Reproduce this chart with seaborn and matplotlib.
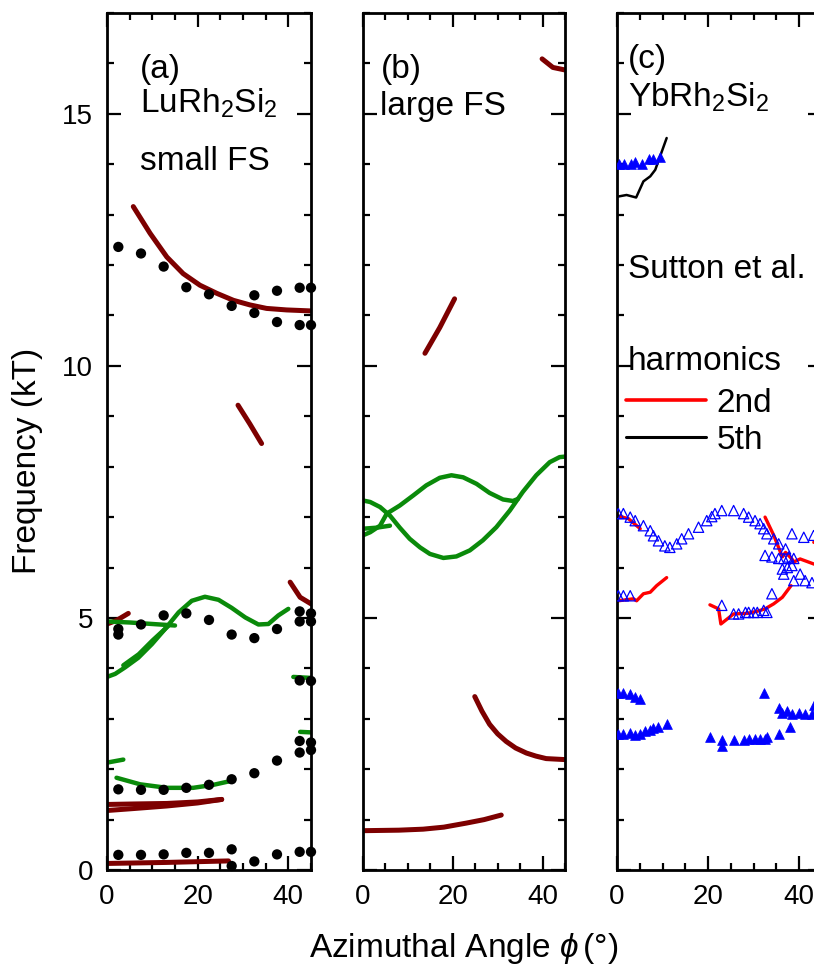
import numpy as np
import pandas as pd
import matplotlib
matplotlib.use("Agg")
import matplotlib.pyplot as plt
from matplotlib.lines import Line2D
from matplotlib.ticker import MultipleLocator
import seaborn as sns

# ---- panel (a) LuRh2Si2 small FS : calculated branches ----
a_red = [
    ([5.8, 9.5, 13.2, 16.8, 20.5, 24.2, 27.9, 31.5, 35.2, 39.6, 45.0],
     [13.16, 12.63, 12.16, 11.83, 11.60, 11.44, 11.30, 11.21, 11.14, 11.11, 11.09]),
    ([28.9, 31.5, 34.1], [9.22, 8.85, 8.46]),
    ([40.4, 42.6, 45.0], [5.71, 5.41, 5.28]),
    ([0.0, 2.1, 4.7], [4.88, 4.95, 5.09]),
    ([0.0, 6.0, 13.2, 20.0, 25.3], [1.18, 1.22, 1.27, 1.33, 1.40]),
    ([0.0, 6.0, 13.2, 20.0, 25.3], [1.30, 1.31, 1.32, 1.35, 1.40]),
    ([0.0, 13.0, 26.8], [0.13, 0.15, 0.18]),
]
a_green = [
    ([0.0, 5.0, 10.0, 15.0], [4.93, 4.91, 4.88, 4.85]),
    ([0.0, 1.8, 4.0, 6.9, 9.9, 12.8, 15.8, 18.7, 21.6, 24.6, 27.5, 30.5, 33.4, 35.6, 37.8, 40.0],
     [3.83, 3.89, 4.02, 4.21, 4.48, 4.78, 5.11, 5.34, 5.42, 5.36, 5.20, 5.01, 4.87, 4.88, 5.05, 5.18]),
    ([3.6, 7.0, 10.0, 13.5], [4.06, 4.28, 4.55, 4.84]),
    ([41.1, 45.0], [3.83, 3.81]),
    ([42.6, 45.0], [2.74, 2.73]),
    ([0.0, 3.6], [2.13, 2.19]),
    ([2.1, 7.3, 13.2, 19.0, 23.5, 27.5], [1.83, 1.70, 1.63, 1.63, 1.69, 1.77]),
]
# ---- panel (a) measured dHvA points ----
a_dots_x = [2.5, 7.5, 12.5, 17.5, 22.5, 27.5, 32.5, 32.5, 37.5, 37.5, 42.5, 42.5, 45, 45,
            2.5, 2.5, 7.5, 12.5, 17.5, 22.5, 27.5, 32.5, 37.5, 42.5, 42.5, 45, 45,
            42.5, 45,
            2.5, 7.5, 12.5, 17.5, 22.5, 27.5, 32.5, 37.5, 42.5, 42.5, 45, 45,
            2.5, 7.5, 12.5, 17.5, 22.5, 27.5, 27.5, 32.5, 37.5, 42.5, 45]
a_dots_y = [12.36, 12.23, 11.97, 11.56, 11.42, 11.19, 11.40, 11.05, 11.49, 10.87, 11.55, 10.81, 11.55, 10.81,
            4.78, 4.67, 4.87, 5.05, 5.09, 4.96, 4.67, 4.60, 4.78, 5.13, 4.93, 5.09, 4.93,
            3.76, 3.75,
            1.60, 1.59, 1.59, 1.63, 1.69, 1.80, 1.92, 2.17, 2.56, 2.33, 2.53, 2.38,
            0.30, 0.30, 0.31, 0.34, 0.34, 0.41, 0.08, 0.17, 0.31, 0.36, 0.36]

# ---- panel (b) large FS ----
b_red = [
    ([39.9, 42.3, 45.0], [16.09, 15.92, 15.87]),
    ([13.8, 17.1, 20.4], [10.25, 10.76, 11.33]),
    ([24.9, 26.5, 28.2, 30.0, 31.9, 34.0, 36.4, 38.5, 40.8, 45.0],
     [3.44, 3.15, 2.89, 2.70, 2.55, 2.42, 2.32, 2.26, 2.21, 2.19]),
    ([0.0, 8.0, 13.4, 18.0, 23.0, 27.0, 30.8], [0.78, 0.79, 0.81, 0.85, 0.93, 1.00, 1.09]),
]
b_green = [
    ([0.0, 1.6, 3.8, 6.0, 8.2, 10.4, 12.7, 14.9, 17.9, 20.8, 23.8, 26.7, 29.7, 32.7, 35.6,
      38.6, 41.6, 43.8, 45.0],
     [7.33, 7.30, 7.20, 7.03, 6.79, 6.57, 6.40, 6.27, 6.19, 6.22, 6.34, 6.54, 6.80, 7.13, 7.50,
      7.83, 8.09, 8.19, 8.20]),
    ([0.0, 1.6, 3.8, 5.3, 8.2, 11.2, 14.1, 17.1, 19.7, 22.3, 25.3, 28.2, 31.2, 33.4, 34.5],
     [6.64, 6.70, 6.83, 7.07, 7.23, 7.43, 7.63, 7.78, 7.83, 7.79, 7.66, 7.48, 7.35, 7.32, 7.36]),
    ([0.0, 3.0, 6.0], [6.77, 6.79, 6.83]),
]

# ---- panel (c) YbRh2Si2, Sutton et al. ----
c_open_x = [0.3, 1.4, 2.9, 4.0, 5.8, 7.3, 8.0, 9.1, 10.5, 11.6, 13.1, 14.2, 15.7, 17.9, 19.7,
            20.8, 21.5, 23.0, 25.6, 27.8, 28.9, 30.3, 31.4, 32.2, 32.9, 34.4, 35.5, 37.0,
            38.4, 41.0, 43.2,
            32.5, 34.0, 35.5, 36.6, 37.7, 38.8,
            36.3, 37.4, 38.4, 38.8, 40.2, 41.3, 42.8, 36.6,
            0.3, 1.4, 2.9,
            23.0, 25.6, 26.7, 28.2, 28.9, 30.0, 30.8, 32.2, 32.9, 34.0]
c_open_y = [7.07, 7.07, 7.00, 6.93, 6.83, 6.73, 6.63, 6.53, 6.43, 6.40, 6.47, 6.57, 6.67, 6.80, 6.93,
            7.01, 7.07, 7.13, 7.13, 7.07, 7.00, 6.93, 6.87, 6.77, 6.67, 6.57, 6.47, 6.37,
            6.67, 6.60, 6.64,
            6.24, 6.21, 6.18, 6.18, 6.21, 6.18,
            5.97, 6.00, 6.04, 5.74, 5.87, 5.74, 5.70, 5.87,
            5.44, 5.44, 5.44,
            5.25, 5.08, 5.08, 5.11, 5.11, 5.11, 5.11, 5.15, 5.11, 5.48]
c_fill_x = [0.5, 1.5, 3.0, 4.0, 5.5, 7.0, 8.0, 9.5,
            0.3, 1.4, 2.9, 4.0, 5.1,
            0.3, 1.4, 2.9, 4.0, 5.1, 6.2, 7.3, 8.0, 9.1, 10.9,
            20.4, 23.0, 23.0, 25.6, 27.8, 28.9, 30.3, 31.4, 32.5, 32.9, 32.2,
            35.5, 38.0, 35.5, 36.3, 37.4, 38.4, 39.9, 41.3, 42.8, 43.2]
c_fill_y = [14.0, 14.0, 14.0, 14.05, 14.0, 14.1, 14.1, 14.15,
            3.52, 3.52, 3.49, 3.44, 3.39,
            2.70, 2.70, 2.71, 2.68, 2.70, 2.75, 2.78, 2.82, 2.84, 2.90,
            2.64, 2.58, 2.46, 2.58, 2.58, 2.60, 2.60, 2.60, 2.60, 2.63, 3.52,
            2.70, 2.84, 3.22, 3.12, 3.15, 3.09, 3.12, 3.09, 3.09, 3.28]
c_2nd = [
    ([0.3, 2.5, 5.1], [7.02, 6.97, 6.77]),
    ([0.3, 3.6, 4.3, 5.8, 7.3, 8.7, 10.9], [5.34, 5.38, 5.34, 5.48, 5.51, 5.64, 5.80]),
    ([20.4, 22.3, 22.8, 25.6, 28.5, 30.7, 32.5, 34.4, 36.3, 38.2],
     [5.26, 5.18, 4.88, 5.08, 5.09, 5.13, 5.18, 5.28, 5.41, 5.64]),
    ([32.5, 34.4, 36.3, 37.0, 38.4, 38.8, 40.2, 43.2, 46.0],
     [7.00, 6.64, 6.21, 6.30, 6.17, 6.11, 6.17, 6.07, 6.02]),
    ([43.2, 46.0], [6.50, 6.46]),
]
c_5th = [
    ([0.3, 2.1, 4.2, 5.8, 7.3, 8.4, 10.9], [13.36, 13.39, 13.34, 13.66, 13.76, 13.89, 14.52]),
]

DARK_RED = "#7d0000"
GREEN = "#0a8a0a"
BLUE = "#0000ff"

sns.set_theme(style="white")
plt.rcParams["font.family"] = ["Liberation Sans", "DejaVu Sans"]
plt.rcParams["mathtext.fontset"] = "custom"
plt.rcParams["mathtext.rm"] = "Liberation Sans"
plt.rcParams["mathtext.it"] = "Liberation Sans:italic"
plt.rcParams["text.color"] = "black"
plt.rcParams["axes.labelcolor"] = "black"
plt.rcParams["xtick.color"] = "black"
plt.rcParams["ytick.color"] = "black"

W, H = 814, 967
fig = plt.figure(figsize=(W / 100, H / 100), dpi=100)
bottom = (H - 870) / H
height = 857 / H
ax_a = fig.add_axes([107 / W, bottom, 204 / W, height])
ax_b = fig.add_axes([363 / W, bottom, 202 / W, height])
ax_c = fig.add_axes([617 / W, bottom, 205 / W, height])


def draw_curves(ax, curves, color, lw):
    for xs, ys in curves:
        d = pd.DataFrame({"x": xs, "y": ys})
        sns.lineplot(data=d, x="x", y="y", ax=ax, color=color, lw=lw,
                     sort=False, estimator=None, solid_capstyle="round",
                     solid_joinstyle="round")


draw_curves(ax_a, a_red, DARK_RED, 3.6)
draw_curves(ax_a, a_green, GREEN, 3.2)
sns.scatterplot(x=a_dots_x, y=a_dots_y, ax=ax_a, color="black", s=55,
                edgecolor="none", clip_on=False, zorder=5)

draw_curves(ax_b, b_red, DARK_RED, 3.6)
draw_curves(ax_b, b_green, GREEN, 3.2)

sns.scatterplot(x=c_open_x, y=c_open_y, ax=ax_c, marker="^", s=55,
                facecolor="none", edgecolor=BLUE, linewidth=0.9, zorder=4)
sns.scatterplot(x=c_fill_x, y=c_fill_y, ax=ax_c, marker="^", s=50,
                color=BLUE, edgecolor=BLUE, linewidth=0.5, zorder=4)
draw_curves(ax_c, c_2nd, "#ff0000", 2.4)
draw_curves(ax_c, c_5th, "black", 1.8)

for i, ax in enumerate([ax_a, ax_b, ax_c]):
    ax.set_xlim(0, 45)
    ax.set_ylim(0, 17)
    ax.xaxis.set_major_locator(MultipleLocator(20))
    ax.xaxis.set_minor_locator(MultipleLocator(5))
    ax.yaxis.set_major_locator(MultipleLocator(5))
    ax.yaxis.set_minor_locator(MultipleLocator(1))
    ax.tick_params(which="both", direction="in", top=True, right=True,
                   bottom=True, left=True, width=1.6, colors="black",
                   labelsize=20)
    ax.tick_params(which="major", length=10, pad=10)
    ax.tick_params(which="minor", length=5)
    for sp in ax.spines.values():
        sp.set_linewidth(2.0)
        sp.set_color("black")
    ax.set_xlabel("")
    ax.set_ylabel("")
    if i > 0:
        ax.tick_params(labelleft=False)
    ax.grid(False)

fs = 24
ax_a.text(7.3, 15.72, "(a)", fontsize=fs)
ax_a.text(7.3, 15.02, r"LuRh$_2$Si$_2$", fontsize=fs)
ax_a.text(7.3, 13.89, "small FS", fontsize=fs)
ax_b.text(3.9, 15.72, "(b)", fontsize=fs)
ax_b.text(3.8, 14.98, "large FS", fontsize=fs)
ax_c.text(2.4, 15.9, "(c)", fontsize=fs)
ax_c.text(2.4, 15.15, r"YbRh$_2$Si$_2$", fontsize=fs)
ax_c.text(2.4, 11.74, "Sutton et al.", fontsize=fs)
ax_c.text(2.4, 9.91, "harmonics", fontsize=fs)

handles = [Line2D([], [], color="#ff0000", lw=2.6),
           Line2D([], [], color="black", lw=2.2)]
ax_c.legend(handles, ["2nd", "5th"], loc="upper left",
            bbox_to_anchor=(0.045, 0.5624), frameon=False, fontsize=fs,
            handlelength=2.4, handletextpad=0.3, labelspacing=0.17,
            borderpad=0, borderaxespad=0)

fig.text(28 / W, (H - 461) / H, "Frequency (kT)", rotation=90,
         ha="center", va="center", fontsize=24)
fig.text(464 / W, (H - 949) / H, r"Azimuthal Angle $\phi\,$(°)",
         ha="center", va="center", fontsize=24)

fig.savefig("out.png", dpi=100)
